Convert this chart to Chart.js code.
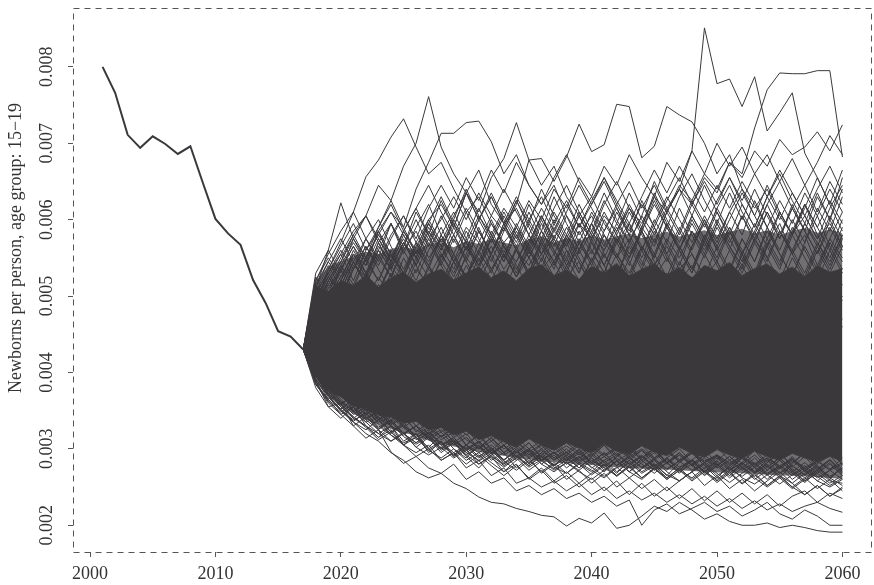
<!DOCTYPE html>
<html><head><meta charset="utf-8">
<script src="https://cdn.jsdelivr.net/npm/chart.js@4.4.0/dist/chart.umd.min.js"></script>
<style>html,body{margin:0;padding:0;background:#fff}#wrap{width:874px;height:585px}</style>
</head><body><div id="wrap"><canvas id="c" width="874" height="585"></canvas></div>
<script>
// values in thousandths (newborns per 1000 persons); tick labels show per-person values
const yTitle = 'Newborns per person, age group: 15\u221219';
const xTicks = [2000, 2010, 2020, 2030, 2040, 2050, 2060];
const yTicks = [2, 3, 4, 5, 6, 7, 8];
const yTickLabels = ['0.002', '0.003', '0.004', '0.005', '0.006', '0.007', '0.008'];

const histYears = [2001,2002,2003,2004,2005,2006,2007,2008,2009,2010,2011,2012,2013,2014,2015,2016,2017];
const histRate  = [8.00,7.66,7.11,6.94,7.09,6.99,6.86,6.96,6.48,6.01,5.82,5.67,5.21,4.91,4.54,4.47,4.30];

const simYears = [2017,2018,2019,2020,2021,2022,2023,2024,2025,2026,2027,
                  2028,2029,2030,2031,2032,2033,2034,2035,2036,2037,2038,
                  2039,2040,2041,2042,2043,2044,2045,2046,2047,2048,2049,
                  2050,2051,2052,2053,2054,2055,2056,2057,2058,2059,2060];

// dense core of the simulation fan (upper / lower edge)
const coreUpper = [4.30,5.12,5.06,5.20,5.14,5.27,5.12,5.24,5.31,5.18,5.29,
                   5.35,5.21,5.30,5.38,5.24,5.33,5.20,5.36,5.41,5.27,5.34,
                   5.22,5.39,5.30,5.43,5.26,5.35,5.42,5.28,5.37,5.24,5.40,
                   5.33,5.44,5.27,5.36,5.42,5.29,5.38,5.25,5.40,5.31,5.36];
const coreLower = [4.30,3.99,3.77,3.68,3.56,3.53,3.44,3.42,3.34,3.36,3.25,
                   3.28,3.18,3.23,3.12,3.17,3.09,3.02,3.13,3.05,2.99,3.08,
                   3.01,2.95,3.06,2.97,2.93,3.04,2.96,2.91,3.02,2.94,2.89,
                   2.99,2.92,2.87,2.97,2.90,2.85,2.94,2.88,2.83,2.90,2.84];
// half-dense zone of tangled paths around the core
const haloUpper = [4.30,5.20,5.38,5.46,5.52,5.58,5.55,5.62,5.65,5.60,5.68,
                   5.70,5.64,5.72,5.68,5.75,5.70,5.66,5.74,5.78,5.70,5.76,
                   5.72,5.80,5.74,5.78,5.82,5.76,5.80,5.84,5.78,5.82,5.86,
                   5.80,5.84,5.88,5.82,5.86,5.80,5.85,5.89,5.83,5.87,5.82];
const haloLower = [4.30,3.94,3.70,3.56,3.46,3.38,3.32,3.26,3.21,3.17,3.11,
                   3.07,3.03,3.00,2.96,2.93,2.91,2.88,2.86,2.84,2.82,2.81,
                   2.80,2.79,2.77,2.76,2.75,2.74,2.73,2.73,2.72,2.71,2.70,
                   2.69,2.69,2.68,2.67,2.66,2.65,2.65,2.64,2.63,2.62,2.61];

// individual simulated paths that stand out from the core
const pathHigh1 = [4.30,4.75,5.05,4.80,5.10,4.95,5.25,5.00,5.20,4.90,5.15,
                   5.30,5.05,5.40,5.10,5.35,5.60,5.25,5.50,5.20,5.45,5.70,
                   5.35,5.60,5.30,5.75,5.50,5.90,5.65,6.10,6.40,6.90,8.51,
                   7.78,7.84,7.48,7.87,7.16,7.40,7.66,6.87,6.55,6.20,5.85];
const pathHigh2 = [4.30,4.95,4.70,5.10,4.85,5.20,4.95,5.30,5.05,5.35,5.15,
                   5.45,5.20,5.50,5.30,5.55,5.25,5.60,5.40,5.70,5.45,5.80,
                   5.55,5.85,5.60,5.95,5.70,6.05,5.80,6.15,6.40,6.20,6.55,
                   6.35,6.75,6.60,7.20,7.70,7.92,7.91,7.91,7.95,7.95,6.82];
const pathHigh3 = [4.30,5.05,5.30,5.55,5.85,6.05,6.45,6.25,6.70,7.00,7.61,
                   6.95,6.60,6.35,6.65,6.20,5.95,6.15,5.80,5.55,5.75,5.40,
                   5.60,5.30,5.15,5.40,5.10,5.30,5.00,5.20,4.90,5.10,4.85,
                   5.05,4.80,5.00,4.75,4.95,4.70,4.90,4.80,4.60,4.85,4.70];
const pathHigh4 = [4.30,4.90,5.35,5.70,6.10,6.56,6.78,7.08,7.32,6.95,6.60,
                   6.75,6.40,6.10,6.30,5.95,5.70,5.90,5.60,5.35,5.55,5.25,
                   5.45,5.10,5.30,5.05,4.90,5.10,4.85,4.95,4.70,4.90,4.65,
                   4.85,4.60,4.80,4.55,4.75,4.50,4.70,4.45,4.65,4.40,4.60];
const pathHigh5 = [4.30,4.70,5.00,5.25,5.55,5.40,5.85,6.10,5.90,6.40,6.75,
                   7.13,7.13,7.27,7.29,7.02,6.60,6.85,6.45,6.20,6.45,6.05,
                   5.80,6.05,5.70,5.50,5.75,5.45,5.25,5.50,5.20,5.40,5.10,
                   5.30,5.00,5.25,4.95,5.15,4.90,5.10,4.85,5.05,4.80,5.00];
const pathHigh6 = [4.30,4.80,5.15,4.95,5.40,5.25,5.65,5.45,5.85,5.60,6.00,
                   6.20,5.90,6.35,6.10,6.55,6.80,7.27,6.78,6.45,6.70,6.30,
                   6.05,6.30,5.95,5.70,5.95,5.65,5.40,5.65,5.35,5.55,5.25,
                   5.45,5.15,5.40,5.10,5.30,5.05,5.25,5.00,5.20,4.95,5.15];
const pathHigh7 = [4.30,4.85,4.60,5.05,4.85,5.25,5.05,5.45,5.25,5.60,5.40,
                   5.75,5.55,5.90,5.70,6.05,5.85,6.20,6.78,6.80,6.50,6.82,
                   7.25,6.89,6.98,7.51,7.48,6.81,6.96,7.48,7.37,7.28,7.00,
                   6.60,6.85,6.40,6.15,6.40,6.05,5.80,6.05,5.75,5.95,5.65];
const pathHigh8 = [4.30,5.10,5.60,6.22,5.75,6.05,5.70,5.95,5.60,5.85,5.50,
                   5.75,5.45,5.70,5.40,5.65,5.35,5.60,5.30,5.55,5.25,5.50,
                   5.20,5.45,5.15,5.40,5.10,5.35,5.05,5.30,5.00,5.25,4.95,
                   5.20,4.90,5.15,4.85,5.10,4.80,5.05,4.75,5.00,4.70,4.95];
const pathHigh9 = [4.30,4.70,4.95,4.75,5.05,4.85,5.15,4.95,5.25,5.05,5.35,
                   5.15,5.45,5.25,5.55,5.35,5.65,5.45,5.75,5.55,5.85,5.65,
                   5.95,5.75,6.05,5.85,6.15,5.95,6.30,6.10,6.45,6.25,6.60,
                   6.40,6.75,6.55,6.90,6.70,7.05,6.85,6.95,7.15,6.90,7.24];
const pathHigh10 = [4.30,5.00,5.25,5.05,5.45,5.20,5.60,5.35,5.70,5.50,5.85,
                    5.60,5.95,5.70,6.05,5.80,6.15,5.90,6.25,6.00,6.40,6.15,
                    6.55,6.30,6.70,6.45,6.85,6.55,6.30,6.75,6.50,6.90,6.60,
                    7.00,6.70,6.95,6.60,6.85,6.50,6.80,6.45,6.75,7.10,6.85];
const pathHigh11 = [4.30,4.95,5.30,5.60,5.35,5.75,5.50,5.95,5.65,6.10,5.80,
                    6.25,5.90,6.35,6.00,5.70,6.05,5.75,6.20,5.85,6.30,5.95,
                    5.60,5.95,5.65,6.10,5.80,6.25,5.90,5.55,5.90,5.60,6.00,
                    5.70,6.10,5.80,6.25,5.90,5.60,6.00,5.70,6.15,5.85,6.30];
const pathHigh12 = [4.30,4.85,5.20,5.45,5.75,5.50,5.90,6.20,5.85,6.15,6.45,
                    6.10,5.80,6.15,5.85,5.55,5.90,6.25,5.95,6.40,6.05,5.75,
                    6.10,5.80,5.50,5.85,6.20,5.90,6.35,6.00,5.70,6.05,5.75,
                    6.15,6.45,6.10,5.80,6.20,6.50,6.15,5.85,6.30,6.00,6.55];
const pathHigh13 = [4.30,5.15,4.90,5.40,5.70,5.45,5.20,5.55,5.30,5.70,5.45,
                    5.80,5.50,5.25,5.60,5.95,5.65,5.35,5.70,6.05,5.75,6.10,
                    6.45,6.15,5.85,6.20,5.90,5.60,5.95,6.30,6.00,5.70,6.05,
                    5.75,6.10,6.40,6.05,5.75,6.10,5.80,6.20,5.90,6.25,5.95];
const pathHigh14 = [4.30,4.75,5.05,5.35,5.10,5.50,5.80,5.55,5.30,5.65,5.95,
                    5.65,6.00,6.40,6.05,5.75,6.10,5.80,5.50,5.85,5.55,5.90,
                    5.60,5.95,6.35,6.00,5.70,6.05,6.50,6.15,5.85,6.25,5.95,
                    5.65,6.00,6.35,6.05,6.45,6.10,5.80,6.15,6.55,6.20,6.65];
const pathHigh15 = [4.30,5.20,5.50,5.25,5.55,5.30,5.05,5.40,5.15,5.50,5.25,
                    5.55,5.30,5.65,5.40,5.75,5.45,5.80,5.50,5.85,5.60,5.35,
                    5.70,5.45,5.80,5.55,5.30,5.65,5.40,5.75,5.50,5.85,5.60,
                    5.95,5.65,5.40,5.75,5.50,5.85,5.60,5.95,5.70,5.45,5.80];
const pathHigh16 = [4.30,4.90,5.25,5.00,5.35,5.65,5.40,5.75,6.05,5.75,6.15,
                    6.45,6.15,6.55,6.25,6.65,6.35,6.75,6.45,6.20,6.55,6.85,
                    6.50,6.20,6.55,6.25,5.95,6.30,6.65,6.35,6.70,6.40,6.10,
                    6.45,6.15,6.50,6.20,5.90,6.25,5.95,6.35,6.05,6.40,6.10];
const pathHigh17 = [4.30,4.65,4.90,5.20,4.95,5.30,5.05,5.40,5.70,5.40,5.75,
                    6.00,6.30,6.00,6.35,6.05,6.40,6.10,5.80,6.15,5.85,6.20,
                    5.90,6.25,6.55,6.20,6.50,6.15,6.45,6.10,5.80,6.20,6.50,
                    6.20,6.55,6.25,6.60,6.30,6.65,6.35,6.05,6.40,6.70,6.35];

// paths tangled along the upper edge of the core
const pathEdgeUp1 = [4.30,5.05,5.40,5.10,5.55,5.25,5.70,5.35,5.05,5.45,5.80,
                     5.40,5.10,5.55,5.90,5.50,5.20,5.65,5.30,5.75,5.45,5.15,
                     5.60,5.95,5.55,5.25,5.70,5.40,5.85,5.50,5.20,5.65,6.00,
                     5.60,5.30,5.75,5.45,5.90,5.55,5.25,5.70,6.05,5.65,5.35];
const pathEdgeUp2 = [4.30,4.95,5.25,5.55,5.20,5.60,5.85,5.45,5.75,5.40,5.10,
                     5.50,5.80,5.45,5.15,5.55,5.95,5.60,5.25,5.65,5.35,5.80,
                     5.50,5.20,5.60,5.90,5.55,5.85,5.45,5.15,5.60,5.30,5.75,
                     5.45,5.85,5.50,5.20,5.65,5.95,5.55,5.80,5.40,5.75,6.10];
const pathEdgeUp3 = [4.30,5.25,4.95,5.35,5.65,5.30,5.60,5.95,5.55,5.90,6.20,
                     5.80,5.45,5.85,5.55,6.00,5.65,5.30,5.70,6.05,5.70,5.40,
                     5.75,5.45,5.85,6.15,5.80,5.50,5.90,5.55,5.25,5.65,5.95,
                     5.60,5.90,5.55,5.25,5.70,5.40,5.85,6.20,5.80,5.50,5.90];
const pathEdgeUp4 = [4.30,4.80,5.20,4.95,5.35,5.65,5.35,5.05,5.50,5.20,5.60,
                     5.90,5.55,5.25,5.70,5.35,5.05,5.45,5.80,5.45,5.90,5.60,
                     5.30,5.75,5.40,5.10,5.50,5.85,5.50,5.95,5.60,5.30,5.70,
                     5.40,5.10,5.55,5.25,5.65,5.35,5.80,5.50,5.20,5.60,5.30];
const pathEdgeUp5 = [4.30,5.10,5.45,5.75,5.45,5.15,5.55,5.25,5.65,6.00,5.65,
                     6.05,5.70,6.10,5.75,5.45,5.85,6.25,5.90,5.55,5.95,5.65,
                     6.05,5.70,5.40,5.80,5.50,5.90,6.30,5.95,5.60,6.00,5.70,
                     6.10,5.75,5.45,5.85,6.20,5.85,5.55,5.95,5.65,6.05,5.75];
const pathEdgeUp6 = [4.30,4.90,5.15,5.45,5.80,5.50,5.20,5.60,5.30,5.00,5.40,
                     5.15,5.55,5.25,5.60,5.30,5.70,5.40,5.10,5.50,5.20,5.60,
                     5.30,5.70,5.40,5.75,5.45,5.15,5.55,5.25,5.65,5.35,5.75,
                     5.45,5.15,5.55,5.85,5.50,5.20,5.60,5.30,5.70,5.40,5.80];
const pathEdgeUp7 = [4.30,5.30,5.60,5.30,5.75,5.45,5.85,5.55,5.25,5.65,5.35,
                     5.80,6.10,5.75,6.15,5.80,5.50,5.90,5.60,6.00,5.65,6.05,
                     5.70,6.10,5.80,5.50,5.95,5.60,6.00,5.70,6.15,5.80,5.50,
                     5.90,5.60,6.05,5.70,6.10,5.75,6.20,5.85,5.55,6.00,5.65];
const pathEdgeUp8 = [4.30,4.85,5.10,5.40,5.15,5.50,5.80,6.10,5.80,5.50,5.85,
                     5.55,5.25,5.65,5.35,5.75,5.45,5.85,5.55,5.95,5.60,5.30,
                     5.70,5.40,5.80,5.50,5.20,5.60,5.30,5.70,5.40,5.85,5.55,
                     5.95,5.65,5.35,5.75,5.45,5.85,5.55,5.25,5.65,5.35,5.75];
const pathEdgeUp9 = [4.30,5.00,4.80,5.20,5.50,5.25,5.60,5.35,5.70,5.40,5.75,
                     5.45,5.80,5.50,5.85,5.55,5.90,5.60,5.95,5.65,6.00,5.70,
                     6.05,5.75,6.10,5.80,6.15,5.85,6.20,5.90,5.60,5.95,5.65,
                     6.00,5.70,6.05,5.75,6.10,5.80,6.15,5.85,5.55,5.90,5.60];
const pathEdgeUp10 = [4.30,5.20,5.55,5.85,6.10,5.75,6.00,5.65,5.35,5.70,5.40,
                      5.05,5.45,5.15,5.50,5.20,5.55,5.25,5.60,5.30,5.00,5.40,
                      5.10,5.50,5.20,5.55,5.25,5.65,5.35,5.05,5.45,5.15,5.55,
                      5.25,5.60,5.30,5.70,5.40,5.10,5.50,5.20,5.60,5.30,5.65];
const pathEdgeUp11 = [4.30,5.00,5.35,5.65,5.95,5.60,5.90,6.25,5.90,5.55,5.95,
                      6.30,5.95,5.60,6.00,6.35,6.00,5.70,6.10,5.75,6.15,6.45,
                      6.10,5.80,6.20,6.50,6.15,5.85,6.25,5.90,6.30,6.60,6.25,
                      5.95,6.35,6.00,6.40,6.05,5.75,6.15,6.45,6.10,6.50,6.20];
const pathEdgeUp12 = [4.30,4.90,5.20,5.50,5.80,6.05,5.75,5.45,5.85,6.15,5.80,
                      5.50,5.90,5.60,6.00,6.30,5.95,6.30,6.00,5.70,6.10,5.80,
                      6.20,5.85,6.25,5.95,6.35,6.00,5.70,6.10,6.40,6.05,6.45,
                      6.10,5.80,6.20,5.90,6.30,6.60,6.25,5.95,6.35,6.00,6.40];
const pathEdgeUp13 = [4.30,5.15,5.45,5.20,5.60,5.30,5.70,5.40,5.80,5.50,5.90,
                      5.60,6.00,5.70,5.40,5.80,5.50,5.95,5.65,6.05,5.75,5.45,
                      5.85,5.55,6.00,5.70,6.10,5.80,5.50,5.90,5.60,6.05,5.75,
                      6.15,5.85,5.55,5.95,5.65,6.10,5.80,6.20,5.90,5.60,6.00];
const pathEdgeUp14 = [4.30,4.80,5.10,5.35,5.65,5.40,5.75,5.50,5.85,5.55,5.95,
                      5.65,5.35,5.75,5.45,5.85,5.55,5.25,5.65,5.35,5.80,5.50,
                      5.95,5.60,5.30,5.70,5.40,5.85,5.55,5.95,5.65,5.35,5.80,
                      5.50,5.90,5.60,5.30,5.75,5.45,5.90,5.60,5.30,5.70,5.45];
const pathEdgeUp15 = [4.30,5.05,5.30,5.05,5.45,5.75,5.45,5.80,6.05,5.70,6.00,
                      5.70,6.05,6.35,6.00,6.30,5.95,5.65,6.00,6.30,5.95,6.25,
                      5.90,6.20,6.50,6.15,5.85,6.20,5.90,6.25,6.55,6.20,5.90,
                      6.25,6.55,6.20,5.90,6.30,6.00,6.35,6.05,5.75,6.15,6.45];
const pathEdgeUp16 = [4.30,4.95,4.75,5.15,5.45,5.15,5.50,5.25,5.60,5.30,5.70,
                      5.40,5.75,5.45,5.85,5.55,5.95,5.60,5.30,5.70,5.40,5.75,
                      5.45,5.15,5.55,5.25,5.65,5.35,5.75,5.45,5.85,5.55,5.25,
                      5.65,5.35,5.75,5.45,5.85,5.55,5.25,5.65,5.35,5.75,5.50];

const pathLow1 = [4.30,3.95,3.70,3.50,3.35,3.20,3.10,2.95,2.85,2.70,2.62,
                  2.68,2.55,2.48,2.37,2.30,2.28,2.22,2.18,2.13,2.11,1.99,
                  2.09,2.03,2.16,1.96,2.00,2.12,2.25,2.18,2.30,2.20,2.08,
                  2.15,2.05,2.00,2.00,2.03,1.97,2.00,1.97,1.93,1.91,1.91];
const pathLow2 = [4.30,3.90,3.55,3.60,3.30,3.14,3.25,2.96,2.81,2.90,2.75,
                  2.68,2.80,2.60,2.70,2.55,2.62,2.45,2.52,2.40,2.48,2.35,
                  2.42,2.30,2.38,2.25,2.33,2.00,2.20,2.28,2.15,2.22,2.30,
                  2.18,2.25,2.12,2.20,2.30,2.15,2.08,2.20,2.12,2.00,2.00];
const pathLow3 = [4.30,4.00,3.75,3.60,3.40,3.30,3.15,3.25,3.05,2.95,3.05,
                  2.85,2.95,2.75,2.85,2.65,2.75,2.55,2.62,2.50,2.58,2.45,
                  2.55,2.40,2.50,2.35,2.45,2.33,2.42,2.30,2.40,2.28,2.38,
                  2.25,2.35,2.22,2.32,2.20,2.28,2.18,2.25,2.30,2.22,2.17];
const pathLow4 = [4.30,3.85,3.65,3.45,3.55,3.35,3.20,3.30,3.10,3.20,3.00,
                  3.10,2.90,3.00,2.80,2.90,2.70,2.80,2.60,2.72,2.55,2.65,
                  2.50,2.62,2.45,2.58,2.40,2.55,2.38,2.50,2.35,2.48,2.32,
                  2.45,2.30,2.42,2.28,2.40,2.25,2.38,2.45,2.30,2.42,2.35];
const pathLow5 = [4.30,3.95,3.80,3.62,3.45,3.55,3.38,3.22,3.32,3.15,3.25,
                  3.05,3.15,2.95,3.05,2.85,2.95,2.75,2.88,2.68,2.80,2.60,
                  2.72,2.55,2.68,2.50,2.62,2.48,2.60,2.45,2.58,2.70,2.52,
                  2.65,2.48,2.60,2.45,2.58,2.70,2.55,2.40,2.52,2.38,2.50];
const pathLow6 = [4.30,4.05,3.85,3.70,3.55,3.40,3.50,3.35,3.20,3.30,3.15,
                  3.25,3.10,3.00,3.10,2.95,3.05,2.90,3.00,2.85,2.95,2.80,
                  2.90,2.75,2.85,2.70,2.82,2.68,2.78,2.62,2.75,2.60,2.72,
                  2.58,2.70,2.55,2.68,2.52,2.65,2.50,2.62,2.48,2.60,2.45];
const pathLow7 = [4.30,3.90,3.72,3.58,3.42,3.28,3.12,3.22,3.05,2.90,3.00,
                  2.85,2.95,2.80,2.92,2.78,2.65,2.78,2.62,2.75,2.58,2.70,
                  2.55,2.68,2.80,2.65,2.78,2.62,2.75,2.60,2.72,2.85,2.68,
                  2.80,2.65,2.78,2.62,2.50,2.62,2.48,2.60,2.72,2.58,2.55];
const pathLow8 = [4.30,4.02,3.88,3.75,3.62,3.50,3.38,3.45,3.30,3.18,3.28,
                  3.12,3.22,3.05,2.95,3.05,2.92,3.02,2.88,2.98,2.85,2.95,
                  2.82,2.92,2.78,2.88,2.75,2.85,2.72,2.82,2.70,2.80,2.65,
                  2.78,2.62,2.75,2.60,2.72,2.85,2.70,2.58,2.68,2.55,2.65];
const pathLow9 = [4.30,3.98,3.78,3.60,3.68,3.50,3.35,3.42,3.28,3.15,3.22,
                  3.08,2.95,3.05,2.90,3.00,2.86,2.96,2.82,2.92,2.78,2.88,
                  2.75,2.88,2.72,2.85,2.70,2.82,2.95,2.80,2.92,2.78,2.88,
                  2.75,2.85,2.72,2.82,2.68,2.78,2.65,2.75,2.62,2.72,2.60];
const pathLow10 = [4.30,3.92,3.68,3.50,3.38,3.45,3.30,3.18,3.08,3.15,2.98,
                   3.08,2.92,3.02,2.88,2.98,2.84,2.72,2.85,2.70,2.82,2.68,
                   2.80,2.66,2.78,2.64,2.76,2.62,2.74,2.60,2.72,2.58,2.70,
                   2.56,2.68,2.54,2.66,2.52,2.64,2.50,2.40,2.52,2.38,2.48];
const pathLow11 = [4.30,4.08,3.90,3.76,3.64,3.52,3.42,3.32,3.40,3.25,3.15,
                   3.05,3.12,2.98,3.08,2.94,3.04,2.90,3.00,2.86,2.96,2.84,
                   2.94,2.80,2.90,2.78,2.88,2.76,2.86,2.74,2.84,2.72,2.82,
                   2.90,2.78,2.88,2.76,2.86,2.74,2.84,2.72,2.82,2.95,2.80];
const pathLow12 = [4.30,3.88,3.62,3.75,3.48,3.35,3.42,3.22,3.30,3.12,3.20,
                   3.00,3.10,2.92,2.80,2.92,2.78,2.88,2.72,2.84,2.95,2.80,
                   2.90,2.76,2.64,2.76,2.62,2.74,2.85,2.70,2.58,2.70,2.82,
                   2.68,2.56,2.68,2.80,2.66,2.54,2.66,2.78,2.64,2.52,2.62];

// paths tangled along the lower edge of the core
const pathEdgeLo1 = [4.30,3.80,3.55,3.40,3.55,3.30,3.15,3.30,3.05,3.20,2.95,
                     3.10,2.90,3.05,3.20,3.00,2.85,3.00,2.80,2.95,3.10,2.90,
                     2.75,2.90,3.05,2.85,2.70,2.88,3.02,2.82,2.68,2.85,3.00,
                     2.80,2.65,2.82,2.98,2.78,2.62,2.80,2.95,2.75,2.60,2.78];
const pathEdgeLo2 = [4.30,3.92,3.65,3.80,3.50,3.62,3.38,3.50,3.28,3.40,3.18,
                     3.30,3.08,3.20,3.00,3.15,2.95,3.10,2.92,3.05,2.88,3.00,
                     2.85,3.02,3.12,2.92,3.05,2.88,3.00,2.82,2.95,2.78,2.92,
                     3.02,2.85,2.98,2.80,2.92,2.75,2.88,2.70,2.85,2.98,2.80];
const pathEdgeLo3 = [4.30,4.05,3.75,3.58,3.70,3.45,3.58,3.32,3.45,3.22,3.35,
                     3.15,3.28,3.05,3.18,2.98,3.12,2.95,3.08,2.88,3.02,2.85,
                     3.00,2.82,2.95,2.78,2.92,3.05,2.88,3.00,2.82,2.95,2.78,
                     2.90,2.72,2.88,3.00,2.82,2.95,2.76,2.90,2.72,2.85,2.68];
const pathEdgeLo4 = [4.30,3.85,3.60,3.45,3.30,3.42,3.25,3.10,3.22,3.02,3.15,
                     2.95,3.08,2.90,2.75,2.92,3.05,2.85,2.98,2.80,2.92,2.75,
                     2.88,3.00,2.82,2.68,2.85,2.98,2.80,2.65,2.82,2.95,2.78,
                     2.62,2.78,2.92,2.75,2.60,2.75,2.90,2.72,2.58,2.72,2.88];
const pathEdgeLo5 = [4.30,3.98,3.72,3.85,3.60,3.45,3.55,3.38,3.48,3.30,3.42,
                     3.22,3.35,3.18,3.28,3.10,3.22,3.05,3.15,3.00,3.12,2.95,
                     3.08,2.92,3.05,2.90,3.02,2.85,2.98,2.82,2.95,2.80,2.92,
                     2.78,2.90,2.75,2.88,2.72,2.85,2.70,2.82,2.68,2.80,2.65];
const pathEdgeLo6 = [4.30,3.90,3.78,3.55,3.40,3.52,3.32,3.20,3.35,3.15,3.02,
                     3.18,3.00,2.88,3.05,2.90,2.80,2.95,3.08,2.90,2.78,2.92,
                     3.05,2.88,2.75,2.90,3.02,2.85,2.72,2.88,3.00,2.82,2.70,
                     2.85,2.98,2.80,2.68,2.82,2.95,2.78,2.65,2.80,2.92,2.72];
const pathEdgeLo7 = [4.30,4.02,3.82,3.65,3.48,3.60,3.40,3.30,3.18,3.30,3.12,
                     3.02,3.15,2.98,3.10,2.95,3.05,2.90,2.78,2.92,3.05,2.88,
                     2.98,2.82,2.95,2.78,2.90,2.75,2.88,2.72,2.85,2.98,2.82,
                     2.92,2.75,2.88,2.70,2.85,2.68,2.82,2.95,2.78,2.62,2.75];
const pathEdgeLo8 = [4.30,3.95,3.70,3.52,3.65,3.42,3.28,3.38,3.20,3.08,3.22,
                     3.05,2.92,3.05,2.90,3.02,2.85,2.98,2.82,2.95,2.78,2.92,
                     2.80,2.70,2.85,2.95,2.80,2.92,2.76,2.88,2.72,2.85,2.70,
                     2.82,2.68,2.80,2.92,2.76,2.88,2.72,2.58,2.72,2.86,2.70];
const pathEdgeLo9 = [4.30,3.88,3.70,3.50,3.35,3.25,3.38,3.18,3.05,3.15,2.98,
                     2.88,3.00,2.85,2.95,2.82,2.70,2.85,2.95,2.80,2.70,2.82,
                     2.72,2.85,2.75,2.65,2.78,2.90,2.75,2.62,2.75,2.85,2.70,
                     2.60,2.72,2.82,2.68,2.78,2.65,2.55,2.68,2.78,2.62,2.52];
const pathEdgeLo10 = [4.30,4.10,3.92,3.78,3.66,3.55,3.45,3.35,3.48,3.30,3.20,
                      3.32,3.15,3.25,3.08,3.20,3.05,3.15,3.00,3.10,2.98,3.08,
                      2.95,3.05,2.92,3.02,2.90,3.00,2.88,2.98,2.86,2.95,2.84,
                      2.92,2.82,2.90,2.80,2.88,2.78,2.86,2.76,2.84,2.74,2.82];
const pathEdgeLo11 = [4.30,3.86,3.62,3.48,3.60,3.38,3.25,3.38,3.20,3.08,3.18,
                      3.00,3.12,2.95,2.85,2.98,2.82,2.92,2.78,2.90,2.76,2.68,
                      2.82,2.72,2.62,2.75,2.85,2.70,2.80,2.66,2.58,2.70,2.80,
                      2.65,2.76,2.62,2.54,2.66,2.76,2.60,2.72,2.58,2.50,2.60];
const pathEdgeLo12 = [4.30,3.94,3.82,3.62,3.50,3.38,3.50,3.30,3.20,3.30,3.12,
                      3.22,3.05,3.15,3.00,3.10,2.95,3.05,2.90,3.00,2.86,2.96,
                      2.84,2.94,2.82,2.92,2.80,2.90,2.78,2.88,2.76,2.86,2.74,
                      2.84,2.72,2.82,2.70,2.80,2.68,2.78,2.66,2.76,2.64,2.74];
const pathEdgeLo13 = [4.30,4.00,3.72,3.55,3.42,3.30,3.20,3.10,3.20,3.02,2.92,
                      3.02,2.88,2.98,2.84,2.94,2.80,2.90,2.76,2.86,2.72,2.82,
                      2.70,2.60,2.72,2.84,2.70,2.60,2.74,2.86,2.72,2.62,2.75,
                      2.88,2.74,2.64,2.76,2.66,2.78,2.68,2.56,2.70,2.82,2.66];
const pathEdgeLo14 = [4.30,3.96,3.75,3.88,3.64,3.50,3.60,3.44,3.32,3.44,3.28,
                      3.16,3.28,3.12,3.02,3.14,3.00,3.10,2.96,3.06,2.94,3.04,
                      2.92,3.02,2.90,3.00,2.88,2.98,2.86,2.96,2.84,2.94,2.82,
                      2.92,2.80,2.90,2.78,2.88,2.76,2.86,2.74,2.84,2.72,2.80];
const pathEdgeLo15 = [4.30,3.84,3.64,3.52,3.36,3.48,3.26,3.36,3.16,3.06,3.16,
                      2.98,3.08,2.92,3.02,2.88,2.76,2.88,2.98,2.84,2.74,2.86,
                      2.96,2.82,2.70,2.84,2.94,2.80,2.68,2.82,2.92,2.78,2.66,
                      2.78,2.90,2.76,2.64,2.76,2.88,2.74,2.62,2.74,2.86,2.70];

const simPaths = [pathHigh1,pathHigh2,pathHigh3,pathHigh4,pathHigh5,pathHigh6,pathHigh7,pathHigh8,pathHigh9,
                  pathHigh10,pathHigh11,pathHigh12,pathHigh13,pathHigh14,pathHigh15,pathHigh16,pathHigh17,
                  pathEdgeUp1,pathEdgeUp2,pathEdgeUp3,pathEdgeUp4,pathEdgeUp5,pathEdgeUp6,pathEdgeUp7,pathEdgeUp8,
                  pathEdgeUp9,pathEdgeUp10,pathEdgeUp11,pathEdgeUp12,pathEdgeUp13,pathEdgeUp14,pathEdgeUp15,pathEdgeUp16,
                  pathLow1,pathLow2,pathLow3,pathLow4,pathLow5,pathLow6,pathLow7,pathLow8,pathLow9,pathLow10,pathLow11,pathLow12,
                  pathEdgeLo1,pathEdgeLo2,pathEdgeLo3,pathEdgeLo4,pathEdgeLo5,pathEdgeLo6,pathEdgeLo7,pathEdgeLo8,
                  pathEdgeLo9,pathEdgeLo10,pathEdgeLo11,pathEdgeLo12,pathEdgeLo13,pathEdgeLo14,pathEdgeLo15];

const ink = '#3a383b';
const haloInk = 'rgba(58,56,59,0.72)';
const textInk = '#333333';
const serif = '"Liberation Serif", "Times New Roman", serif';

const pts = (xs, ys) => xs.map((x, i) => ({x: x, y: ys[i]}));
const datasets = [];
// 0,1: solid core; 2,3: half-dense halo filled back to the core edges
datasets.push({label: 'coreLower', data: pts(simYears, coreLower), borderWidth: 1, borderColor: ink, fill: false});
datasets.push({label: 'coreUpper', data: pts(simYears, coreUpper), borderWidth: 1, borderColor: ink, backgroundColor: ink, fill: '-1'});
datasets.push({label: 'haloUpper', data: pts(simYears, haloUpper), borderWidth: 0, borderColor: 'rgba(0,0,0,0)', backgroundColor: haloInk, fill: 1});
datasets.push({label: 'haloLower', data: pts(simYears, haloLower), borderWidth: 0, borderColor: 'rgba(0,0,0,0)', backgroundColor: haloInk, fill: 0});
simPaths.forEach((p, k) => datasets.push({label: 'sim' + k, data: pts(simYears, p), borderWidth: 1, borderColor: ink, fill: false}));
datasets.push({label: 'observed', data: pts(histYears, histRate), borderWidth: 2, borderColor: ink, fill: false});

const decor = {
  id: 'decor',
  afterDraw(chart) {
    const {ctx, chartArea: a, scales} = chart;
    const y = scales.y;
    ctx.save();
    ctx.strokeStyle = '#555555';
    ctx.lineWidth = 1;
    ctx.setLineDash([6, 5]);
    ctx.strokeRect(a.left + 0.5, a.top + 0.5, a.right - a.left - 1, a.bottom - a.top);
    ctx.setLineDash([]);
    ctx.fillStyle = textInk;
    ctx.font = '18px ' + serif;
    ctx.textAlign = 'center';
    ctx.textBaseline = 'middle';
    yTicks.forEach((v, i) => {
      ctx.save();
      ctx.translate(47.5, y.getPixelForValue(v));
      ctx.rotate(-Math.PI / 2);
      ctx.fillText(yTickLabels[i], 0, 0);
      ctx.restore();
    });
    ctx.save();
    ctx.translate(16, 248);
    ctx.rotate(-Math.PI / 2);
    ctx.fillText(yTitle, 0, 0);
    ctx.restore();
    ctx.restore();
  }
};

new Chart(document.getElementById('c'), {
  type: 'line',
  data: {datasets: datasets},
  plugins: [decor],
  options: {
    animation: false, responsive: false, devicePixelRatio: 1,
    layout: {padding: {top: 8, right: 2, left: 0, bottom: 0}},
    plugins: {legend: {display: false}, tooltip: {enabled: false}},
    elements: {point: {radius: 0}, line: {tension: 0, borderJoinStyle: 'miter'}},
    scales: {
      x: {
        type: 'linear', min: 1998.64, max: 2062.36,
        afterBuildTicks: s => { s.ticks = xTicks.map(v => ({value: v})); },
        afterFit: s => { s.height = 33; s.paddingLeft = 0; s.paddingRight = 0; },
        ticks: {color: textInk, font: {family: serif, size: 18}, padding: 6, maxRotation: 0, autoSkip: false,
                callback: v => String(v)},
        grid: {drawOnChartArea: false, drawTicks: true, tickLength: 5, color: '#555555'},
        border: {display: false}
      },
      y: {
        type: 'linear', min: 1.65, max: 8.77,
        afterBuildTicks: s => { s.ticks = yTicks.map(v => ({value: v})); },
        afterFit: s => { s.width = 73; s.paddingTop = 0; s.paddingBottom = 0; },
        ticks: {color: 'rgba(0,0,0,0)', font: {family: serif, size: 18}, padding: 6},
        grid: {drawOnChartArea: false, drawTicks: true, tickLength: 5, color: '#555555'},
        border: {display: false}
      }
    }
  }
});
</script>
</body></html>
